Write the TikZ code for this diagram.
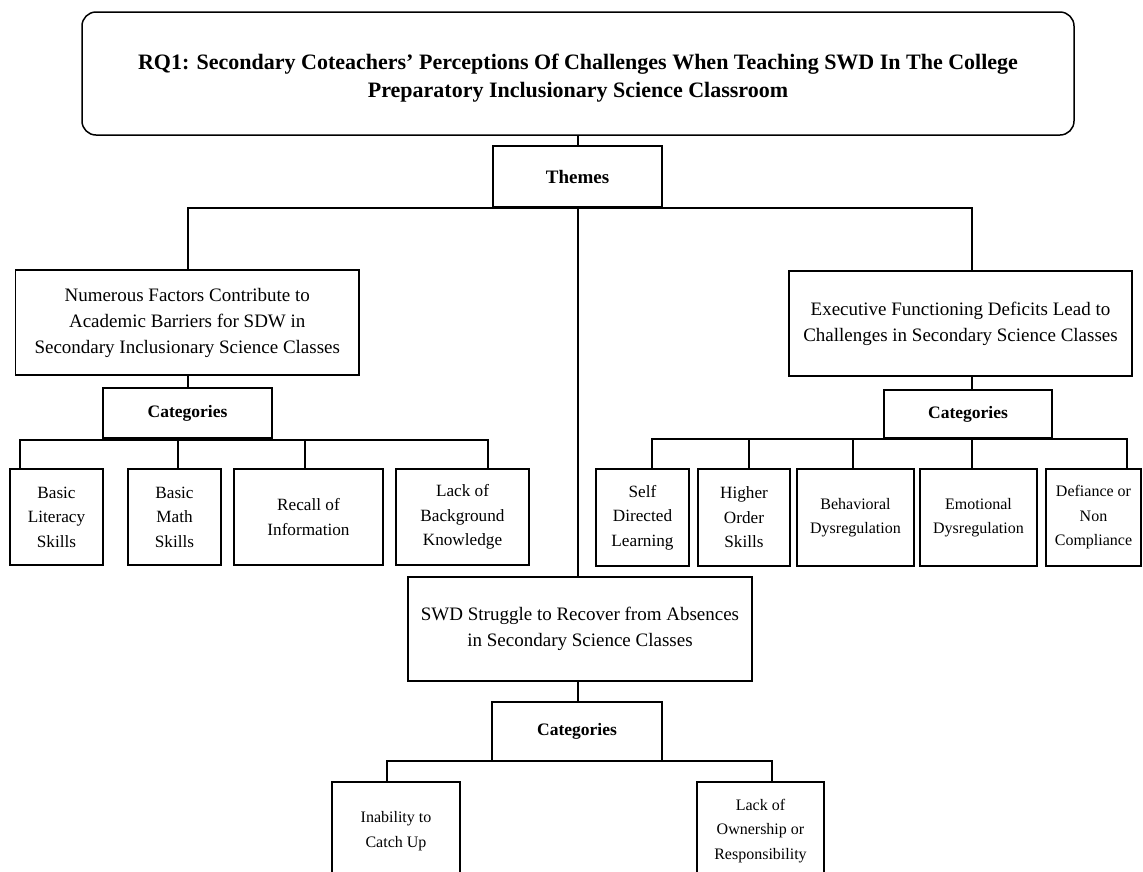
\documentclass[tikz,border=0pt]{standalone}
\usepackage{fontspec}
\setmainfont{Liberation Serif}
\newcommand{\fsz}[2]{\fontsize{#1}{#2}\selectfont}
\begin{document}
\begin{tikzpicture}[x=1pt,y=-1pt,
  box/.style={draw=black,line width=1.5pt,inner sep=0pt,align=center,fill=white},
  titlebox/.style={box,rounded corners=14pt,font=\bfseries\fsz{22}{29}},
  headbox/.style={box,font=\bfseries\fsz{19}{24}},
  catbox/.style={box,font=\bfseries\fsz{17.5}{22}},
  themebox/.style={box,font=\fsz{19}{26}},
  leafbox/.style={box,font=\fsz{17.2}{24.5}},
  leafsmall/.style={box,font=\fsz{16}{24.5}},
  link/.style={draw=black,line width=2.6pt},
]
\useasboundingbox (0,0) rectangle (1143,871);
\clip (0,0) rectangle (1143,871);

% title and theme header
\node[titlebox,minimum width=992pt,minimum height=123pt] (rq) at (578,73.5)
  {\raisebox{-4pt}[\height][\depth]{\begin{tabular}{@{}c@{}}RQ1: Secondary Coteachers’ Perceptions Of Challenges When Teaching SWD In The College\\[-0.5pt]
   Preparatory Inclusionary Science Classroom\end{tabular}}};
\node[headbox,minimum width=169pt,minimum height=61pt] (themes) at (577.5,176.5) {Themes};

% three themes
\node[themebox,minimum width=343.5pt,minimum height=105pt] (thA) at (187.25,322.5)
  {Numerous Factors Contribute to\\Academic Barriers for SDW in\\Secondary Inclusionary Science Classes};
\node[themebox,minimum width=343pt,minimum height=105pt] (thB) at (960.5,323.5)
  {Executive Functioning Deficits Lead to\\Challenges in Secondary Science Classes};
\node[themebox,minimum width=344pt,minimum height=104pt] (thC) at (580,629)
  {SWD Struggle to Recover from Absences\\in Secondary Science Classes};

% category headers
\node[catbox,minimum width=169pt,minimum height=50pt] (catA) at (187.5,413) {Categories};
\node[catbox,minimum width=168pt,minimum height=48pt] (catB) at (968,414) {Categories};
\node[catbox,minimum width=170pt,minimum height=59pt] (catC) at (577,731.5) {Categories};

% categories of theme A
\node[leafbox,minimum width=93pt,minimum height=96pt] (lit) at (56.5,517) {Basic\\Literacy\\Skills};
\node[leafbox,minimum width=93pt,minimum height=96pt] (math) at (174.5,517) {Basic\\Math\\Skills};
\node[leafbox,minimum width=149pt,minimum height=96pt] (recall) at (308.5,517) {Recall of\\Information};
\node[leafbox,minimum width=133pt,minimum height=96pt] (backg) at (462.5,517) {Lack of\\Background\\Knowledge};

% categories of theme B
\node[leafbox,minimum width=93pt,minimum height=97pt] (self) at (642.5,517.5) {Self\\Directed\\Learning};
\node[leafbox,minimum width=92pt,minimum height=97pt] (higher) at (744,517.5) {Higher\\Order\\Skills};
\node[leafsmall,minimum width=117pt,minimum height=97pt] (behav) at (855.5,517.5) {Behavioral\\Dysregulation};
\node[leafsmall,minimum width=117pt,minimum height=97pt] (emo) at (978.5,517.5) {Emotional\\Dysregulation};
\node[leafsmall,minimum width=95pt,minimum height=97pt] (defi) at (1093.5,517.5) {Defiance or\\Non\\Compliance};

% categories of theme C
\node[leafsmall,minimum width=128pt,minimum height=98pt] (inab) at (396,831) {Inability to\\Catch Up};
\node[leafsmall,minimum width=127pt,minimum height=98pt] (own) at (760.5,831) {Lack of\\Ownership or\\Responsibility};

% junction points on the horizontal bars
\coordinate (tL) at (188,208);
\coordinate (tM) at (578,208);
\coordinate (tR) at (972,208);
\coordinate (aL) at (20,440);
\coordinate (a2) at (178,440);
\coordinate (a3) at (305,440);
\coordinate (aR) at (488,440);
\coordinate (bL) at (652,439);
\coordinate (b2) at (749,439);
\coordinate (b3) at (853,439);
\coordinate (b4) at (972,439);
\coordinate (bR) at (1127,439);
\coordinate (cL) at (387,761);
\coordinate (cR) at (772,761);

% title to themes
\draw[link] (rq.south -| tM) -- (themes.north -| tM);
% theme bar and drops
\draw[link,line cap=rect] (tL) -- (tR);
\draw[link] (tL) -- (tL |- thA.north);
\draw[link] (tR) -- (tR |- thB.north);
\draw[link] (themes.south -| tM) -- (thC.north -| tM);
% theme A branch
\draw[link] (thA.south -| tL) -- (catA.north -| tL);
\draw[link,line cap=rect] (aL) -- (aR);
\draw[link] (aL) -- (aL |- lit.north);
\draw[link] (a2) -- (a2 |- math.north);
\draw[link] (a3) -- (a3 |- recall.north);
\draw[link] (aR) -- (aR |- backg.north);
% theme B branch
\draw[link] (thB.south -| tR) -- (catB.north -| tR);
\draw[link,line cap=rect] (bL) -- (bR);
\draw[link] (bL) -- (bL |- self.north);
\draw[link] (b2) -- (b2 |- higher.north);
\draw[link] (b3) -- (b3 |- behav.north);
\draw[link] (b4) -- (b4 |- emo.north);
\draw[link] (bR) -- (bR |- defi.north);
% theme C branch
\draw[link] (thC.south -| tM) -- (catC.north -| tM);
\draw[link,line cap=rect] (cL) -- (cR);
\draw[link] (cL) -- (cL |- inab.north);
\draw[link] (cR) -- (cR |- own.north);
\end{tikzpicture}
\end{document}
